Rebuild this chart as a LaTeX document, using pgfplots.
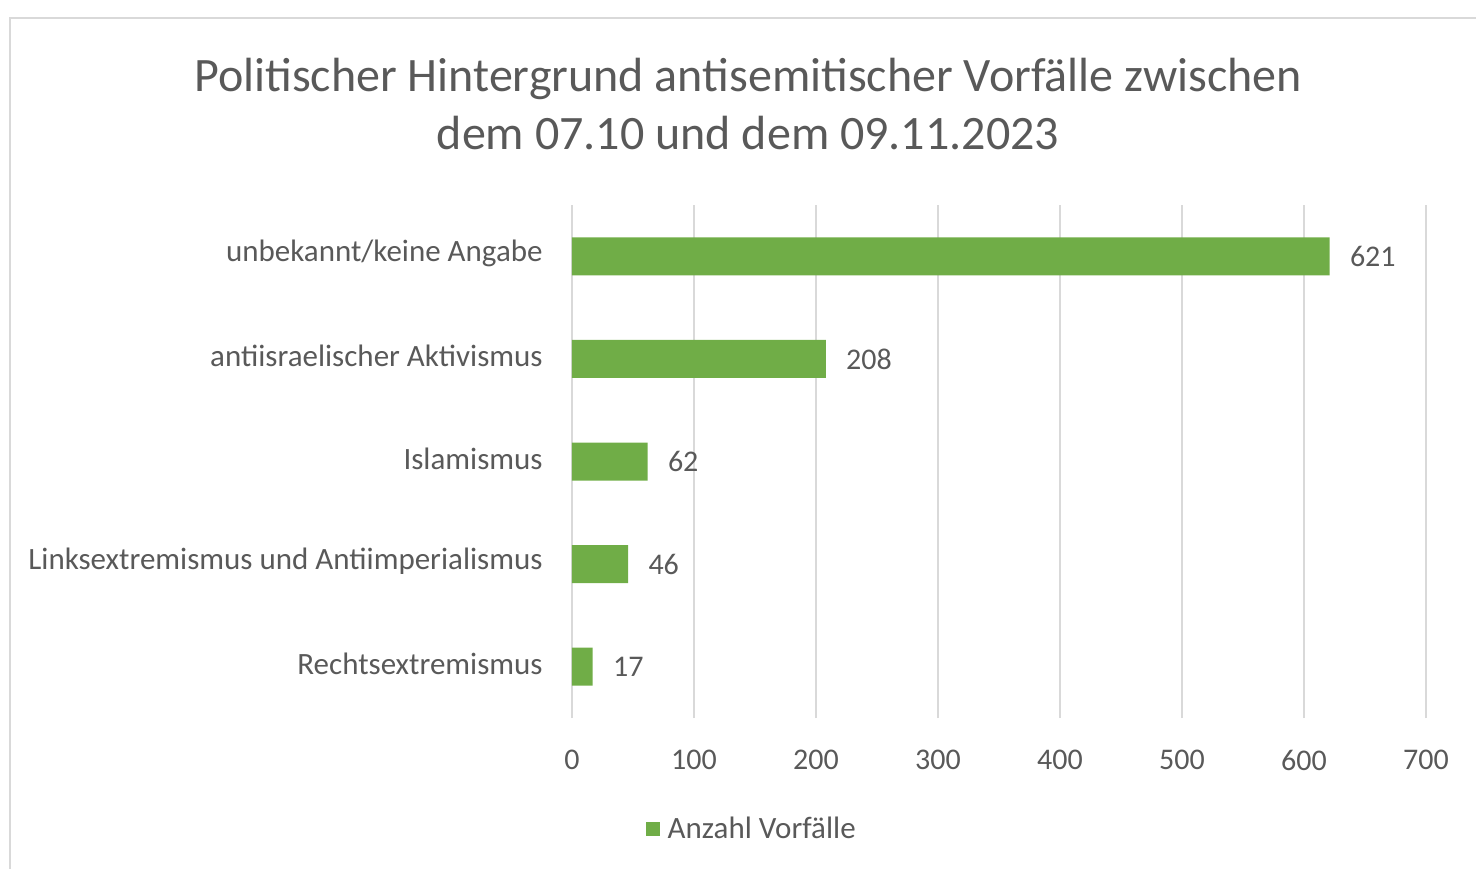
\documentclass[border=0pt]{standalone}
\usepackage{pgfplots}
\pgfplotsset{compat=1.18}
\usepackage{fontspec}
\setmainfont{Carlito}
\definecolor{bargreen}{HTML}{70AD47}
\definecolor{txt}{HTML}{595959}
\definecolor{gridc}{HTML}{D9D9D9}
\begin{document}
\begin{tikzpicture}
\useasboundingbox (-286pt,-75pt) rectangle (452pt,359pt);
\draw[gridc, line width=1pt] (-281pt,-80pt) -- (-281pt,350pt) -- (460pt,350pt);
\node[text=txt, font=\fontsize{24}{29}\selectfont, align=center] at (88pt,307pt)
  {Politischer Hintergrund antisemitischer Vorfälle zwischen\\dem 07.10 und dem 09.11.2023};
\begin{axis}[
  scale only axis, width=427pt, height=256.5pt,
  xbar, bar width=19pt,
  xmin=0, xmax=700, ymin=-0.5, ymax=4.5,
  xtick={0,100,...,700},
  ytick={0,1,2,3,4},
  yticklabels={Rechtsextremismus, Linksextremismus und Antiimperialismus, Islamismus, antiisraelischer Aktivismus, unbekannt/keine Angabe},
  major tick length=0pt,
  axis line style={draw=none},
  xmajorgrids, grid style={gridc, line width=0.8pt},
  /pgf/number format/assume math mode=true,
  tick label style={text=txt, inner sep=0pt},
  xticklabel style={anchor=center, yshift=-21pt, font=\fontsize{15}{17}\selectfont},
  yticklabel style={anchor=east, xshift=-14.5pt, yshift=1.5pt, font=\fontsize{15.5}{17}\selectfont},
  nodes near coords,
  nodes near coords style={text=txt, font=\fontsize{15}{17}\selectfont, anchor=west, inner sep=0pt, xshift=10pt},
  legend style={at={(0.214,-0.216)}, anchor=center, draw=none, fill=none,
    font=\fontsize{15.5}{17}\selectfont, text=txt, nodes={inner xsep=4pt}},
  clip=false,
]
\addplot[fill=bargreen, draw=none,
  legend image code/.code={\fill[bargreen] (0pt,-3.5pt) rectangle (7pt,3.5pt);}]
  coordinates {(17,0) (46,1) (62,2) (208,3) (621,4)};
\addlegendentry{Anzahl Vorfälle}
\end{axis}
\end{tikzpicture}
\end{document}
